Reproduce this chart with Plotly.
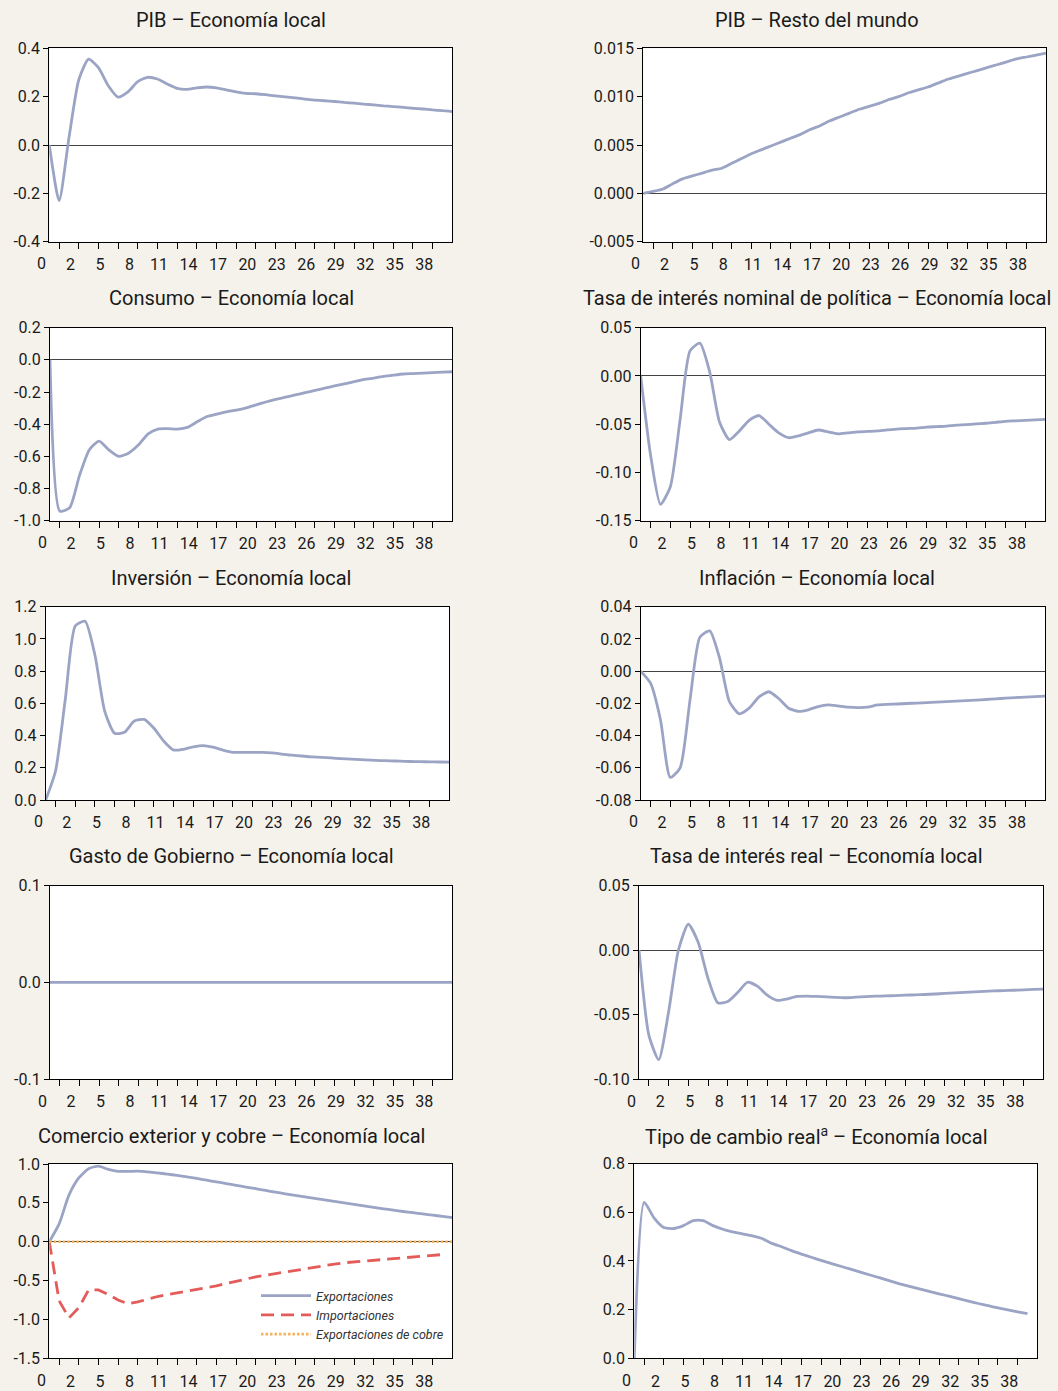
import plotly.graph_objects as go

W, H = 1058, 1391

# ---------------- data ----------------
periodos = list(range(42))

pib_local = [0, -0.23, 0.03, 0.27, 0.355, 0.32, 0.245, 0.198, 0.22, 0.262, 0.28, 0.273, 0.252, 0.234,
             0.230, 0.236, 0.240, 0.236, 0.228, 0.220, 0.214, 0.212, 0.208, 0.203, 0.199, 0.195, 0.190,
             0.186, 0.183, 0.180, 0.176, 0.173, 0.169, 0.166, 0.162, 0.159, 0.156, 0.152, 0.149, 0.145,
             0.142, 0.138]

pib_resto = [0, 0.0002, 0.00045, 0.001, 0.0015, 0.0018, 0.0021, 0.0024, 0.0026, 0.0031, 0.0036, 0.0041,
             0.0045, 0.0049, 0.0053, 0.0057, 0.0061, 0.0066, 0.0070, 0.0075, 0.0079, 0.0083, 0.0087,
             0.0090, 0.0093, 0.0097, 0.0100, 0.0104, 0.0107, 0.0110, 0.0114, 0.0118, 0.0121, 0.0124,
             0.0127, 0.0130, 0.0133, 0.0136, 0.0139, 0.0141, 0.0143, 0.0145]

consumo = [0, -0.94, -0.92, -0.72, -0.56, -0.505, -0.56, -0.60, -0.58, -0.53, -0.46, -0.43, -0.428,
           -0.43, -0.42, -0.385, -0.352, -0.337, -0.323, -0.312, -0.298, -0.280, -0.262, -0.246, -0.232,
           -0.218, -0.204, -0.190, -0.176, -0.162, -0.149, -0.136, -0.122, -0.113, -0.103, -0.095,
           -0.088, -0.085, -0.082, -0.079, -0.076, -0.074]

tasa_nominal = [0, -0.082, -0.133, -0.115, -0.045, 0.026, 0.034, 0.004, -0.048, -0.066, -0.057, -0.046,
                -0.041, -0.050, -0.059, -0.064, -0.062, -0.059, -0.056, -0.058, -0.060, -0.059, -0.058,
                -0.0575, -0.057, -0.0558, -0.055, -0.0545, -0.054, -0.053, -0.0525, -0.052, -0.051,
                -0.0505, -0.0497, -0.049, -0.048, -0.047, -0.0465, -0.046, -0.0455, -0.045]

inversion = [0.0, 0.18, 0.63, 1.08, 1.11, 0.90, 0.55, 0.414, 0.42, 0.49, 0.50, 0.445, 0.365, 0.31, 0.315,
             0.33, 0.338, 0.328, 0.31, 0.296, 0.296, 0.296, 0.296, 0.292, 0.285, 0.278, 0.273, 0.268,
             0.265, 0.261, 0.257, 0.254, 0.251, 0.248, 0.245, 0.243, 0.241, 0.239, 0.238, 0.237, 0.236,
             0.235]

inflacion = [0, -0.0075, -0.030, -0.066, -0.060, -0.018, 0.021, 0.025, 0.008, -0.019, -0.0265, -0.023,
             -0.016, -0.0128, -0.017, -0.023, -0.025, -0.024, -0.022, -0.021, -0.0216, -0.0223, -0.0226,
             -0.0224, -0.021, -0.0206, -0.0204, -0.0201, -0.0198, -0.0195, -0.0192, -0.0189, -0.0186,
             -0.0183, -0.018, -0.0176, -0.0172, -0.0168, -0.0164, -0.0161, -0.0158, -0.0155]

gasto = [0] * 42

tasa_real = [0, -0.066, -0.085, -0.048, 0.0, 0.020, 0.006, -0.022, -0.041, -0.040, -0.033, -0.025, -0.028,
             -0.035, -0.039, -0.038, -0.036, -0.0357, -0.036, -0.0363, -0.0368, -0.037, -0.0366, -0.0362,
             -0.0358, -0.0356, -0.0353, -0.035, -0.0348, -0.0345, -0.0341, -0.0337, -0.0332, -0.0328,
             -0.0324, -0.032, -0.0317, -0.0315, -0.0312, -0.0309, -0.0306, -0.0304]

exportaciones = [0, 0.23, 0.60, 0.82, 0.94, 0.972, 0.93, 0.905, 0.905, 0.908, 0.90, 0.885, 0.87, 0.853,
                 0.835, 0.815, 0.792, 0.770, 0.748, 0.726, 0.704, 0.682, 0.660, 0.638, 0.617, 0.597,
                 0.578, 0.558, 0.538, 0.518, 0.499, 0.480, 0.461, 0.442, 0.424, 0.406, 0.389, 0.373,
                 0.357, 0.342, 0.326, 0.310]

importaciones = [0, -0.76, -0.98, -0.85, -0.62, -0.62, -0.68, -0.75, -0.80, -0.775, -0.74, -0.705, -0.68,
                 -0.657, -0.634, -0.612, -0.593, -0.568, -0.537, -0.507, -0.476, -0.453, -0.431, -0.410,
                 -0.387, -0.364, -0.342, -0.321, -0.304, -0.288, -0.271, -0.261, -0.251, -0.241, -0.231,
                 -0.220, -0.210, -0.200, -0.189, -0.177, -0.165]

export_cobre = [0] * 42

tipo_cambio = [0, 0.64, 0.577, 0.537, 0.533, 0.545, 0.565, 0.565, 0.545, 0.53, 0.519, 0.511, 0.503, 0.492,
               0.472, 0.458, 0.442, 0.428, 0.415, 0.402, 0.390, 0.378, 0.366, 0.354, 0.342, 0.330, 0.318,
               0.306, 0.295, 0.285, 0.275, 0.265, 0.255, 0.245, 0.235, 0.225, 0.216, 0.207, 0.199, 0.191,
               0.183]

x_labels = ["0", "2", "5", "8", "11", "14", "17", "20", "23", "26", "29", "32", "35", "38"]
x_label_values = [0, 2, 5, 8, 11, 14, 17, 20, 23, 26, 29, 32, 35, 38]
x_minor_ticks = [1, 3, 5, 7, 9, 11, 13, 15, 17, 19, 21, 23, 25, 27, 29, 31, 33, 35, 37, 39]

titulos = ["PIB – Economía local", "PIB – Resto del mundo",
           "Consumo – Economía local", "Tasa de interés nominal de política – Economía local",
           "Inversión – Economía local", "Inflación – Economía local",
           "Gasto de Gobierno – Economía local", "Tasa de interés real – Economía local",
           "Comercio exterior y cobre – Economía local", "Tipo de cambio real<sup>a</sup> – Economía local"]

y_ticks = [
    [-0.4, -0.2, 0.0, 0.2, 0.4],
    [-0.005, 0.0, 0.005, 0.010, 0.015],
    [-1.0, -0.8, -0.6, -0.4, -0.2, 0.0, 0.2],
    [-0.15, -0.10, -0.05, 0.0, 0.05],
    [0.0, 0.2, 0.4, 0.6, 0.8, 1.0, 1.2],
    [-0.08, -0.06, -0.04, -0.02, 0.0, 0.02, 0.04],
    [-0.1, 0.0, 0.1],
    [-0.10, -0.05, 0.0, 0.05],
    [-1.5, -1.0, -0.5, 0.0, 0.5, 1.0],
    [0.0, 0.2, 0.4, 0.6, 0.8],
]
y_decimals = [1, 3, 1, 2, 1, 2, 1, 2, 1, 1]

nombres_comercio = ["Exportaciones", "Importaciones", "Exportaciones de cobre"]

# ---------------- styling / layout ----------------
BLUE = "#9ba4c4"
RED = "#e35c5a"
ORANGE = "#f4b25c"
BG = "#f5f2ec"
FONT = "Roboto, 'Open Sans', sans-serif"
TXT = "#1a1a1a"

# plot boxes in pixels: left, top, right, bottom
boxes = [
    (49.3, 48.3, 452.3, 241.7), (643.3, 48.3, 1046.0, 241.7),
    (50.0, 327.7, 452.3, 520.7), (640.7, 327.7, 1045.0, 520.7),
    (45.7, 606.7, 449.3, 800.0), (640.7, 606.7, 1045.0, 800.0),
    (50.0, 885.7, 452.3, 1079.0), (639.0, 885.5, 1043.3, 1079.0),
    (49.3, 1164.0, 452.3, 1358.3), (634.3, 1163.5, 1037.3, 1358.3),
]
title_centers = [(231, 20), (816.5, 20), (231, 298), (816.5, 298), (231, 578),
                 (816.5, 578), (231, 856), (816.5, 856), (231, 1136), (816.5, 1136)]

line_styles = {
    "solid": dict(color=BLUE, width=2.8, dash="solid", shape="spline", smoothing=0.6),
    "dash": dict(color=RED, width=2.8, dash="13px,7px", shape="linear"),
    "dot": dict(color=ORANGE, width=2.6, dash="2.5px,2px", shape="linear"),
}

panel_series = [
    [(None, pib_local, "solid")],
    [(None, pib_resto, "solid")],
    [(None, consumo, "solid")],
    [(None, tasa_nominal, "solid")],
    [(None, inversion, "solid")],
    [(None, inflacion, "solid")],
    [(None, gasto, "solid")],
    [(None, tasa_real, "solid")],
    [(nombres_comercio[0], exportaciones, "solid"),
     (nombres_comercio[1], importaciones, "dash"),
     (nombres_comercio[2], export_cobre, "dot")],
    [(None, tipo_cambio, "solid")],
]

fig = go.Figure()
layout = {}
annotations = []

for i in range(10):
    n = i + 1
    xs = "" if n == 1 else str(n)
    l, t, r, b = boxes[i]
    ticks = y_ticks[i]
    yr = [min(ticks), max(ticks)]
    for name, vals, style in panel_series[i]:
        fig.add_trace(go.Scatter(
            x=periodos[:len(vals)], y=vals, mode="lines",
            name=name if name else "serie", showlegend=name is not None,
            line=line_styles[style],
            xaxis="x" + xs, yaxis="y" + xs, hoverinfo="skip"))
    layout["xaxis" + xs] = dict(
        domain=[l / W, r / W], anchor="y" + xs, range=[0, 41], automargin=False,
        showline=True, linecolor="black", linewidth=1.2, mirror=True,
        showgrid=False, zeroline=False,
        tickmode="array", tickvals=[v + 0.15 for v in x_label_values[1:]], ticktext=x_labels[1:],
        ticks="", ticklabelstandoff=8,
        tickfont=dict(family=FONT, size=16, color=TXT),
        minor=dict(tickmode="array", tickvals=x_minor_ticks, ticks="outside", ticklen=6,
                   tickwidth=1.4, tickcolor="black", showgrid=False),
        fixedrange=True,
    )
    layout["yaxis" + xs] = dict(
        domain=[1 - b / H, 1 - t / H], anchor="x" + xs, range=yr, automargin=False,
        showline=True, linecolor="black", linewidth=1.2, mirror=True,
        showgrid=False,
        zeroline=yr[0] < 0, zerolinecolor="#444444", zerolinewidth=1.1,
        tickmode="array", tickvals=ticks, ticktext=[f"{v:.{y_decimals[i]}f}" for v in ticks],
        ticks="outside", ticklen=5, tickwidth=1.2, tickcolor="black",
        tickfont=dict(family=FONT, size=16, color=TXT),
        fixedrange=True,
    )
    cx, cy = title_centers[i]
    annotations.append(dict(text=titulos[i], xref="paper", yref="paper", x=cx / W, y=1 - cy / H,
                            xanchor="center", yanchor="middle", showarrow=False,
                            font=dict(family=FONT, size=20, color=TXT)))
    annotations.append(dict(text=x_labels[0], xref="x" + xs + " domain", yref="y" + xs + " domain",
                            x=0, y=0, xshift=-7.6, yshift=-22, xanchor="center", yanchor="middle",
                            showarrow=False, font=dict(family=FONT, size=16, color=TXT)))

fig.update_layout(
    width=W, height=H, margin=dict(l=0, r=0, t=0, b=0, pad=0, autoexpand=False),
    paper_bgcolor=BG, plot_bgcolor="white",
    annotations=annotations,
    showlegend=True,
    legend=dict(x=256 / W, y=1 - 1281 / H, xanchor="left", yanchor="top",
                bgcolor="rgba(0,0,0,0)", borderwidth=0, itemwidth=50,
                font=dict(family=FONT, size=12.5, color="#333333", style="italic"),
                tracegroupgap=0, itemclick=False, itemdoubleclick=False),
    **layout,
)

css_fix = (
    "var s=document.createElement('style');"
    "s.innerHTML='html,body{margin:0!important;padding:0!important;overflow:hidden!important;}';"
    "document.head.appendChild(s);"
)

fig.write_html("out.html", config={"displayModeBar": False}, post_script=css_fix)
